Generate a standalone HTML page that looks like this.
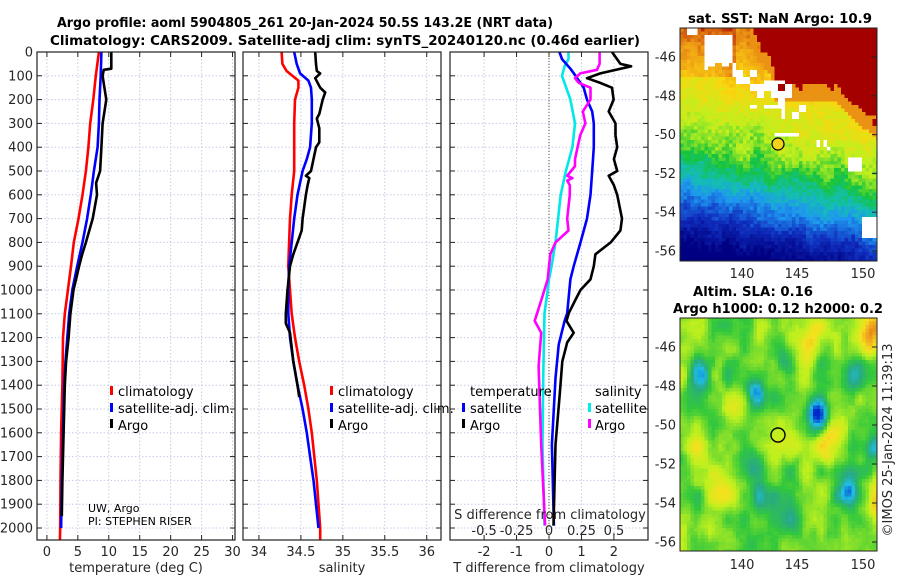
<!DOCTYPE html>
<html><head><meta charset="utf-8"><style>
html,body{margin:0;padding:0;background:#fff;}
svg{display:block;font-family:"DejaVu Sans","Liberation Sans",sans-serif;}
.tk{font-size:13px;fill:#262626;}
.tt{font-size:13.5px;font-weight:bold;fill:#000;}
.lg{font-size:13px;fill:#000;}
</style></head><body>
<svg id="fig" width="900" height="580" viewBox="0 0 900 580">
<rect width="900" height="580" fill="#fff"/>
<text class="tt" x="305" y="27" text-anchor="middle" textLength="496" lengthAdjust="spacingAndGlyphs">Argo profile: aoml 5904805_261 20-Jan-2024 50.5S 143.2E (NRT data)</text>
<text class="tt" x="345" y="45" text-anchor="middle" textLength="590" lengthAdjust="spacingAndGlyphs">Climatology: CARS2009. Satellite-adj clim: synTS_20240120.nc (0.46d earlier)</text>
<text class="tt" x="780" y="23" text-anchor="middle" textLength="184" lengthAdjust="spacingAndGlyphs">sat. SST: NaN Argo: 10.9</text>
<text class="tt" x="753" y="296" text-anchor="middle" textLength="120" lengthAdjust="spacingAndGlyphs">Altim. SLA: 0.16</text>
<text class="tt" x="778" y="313" text-anchor="middle" textLength="210" lengthAdjust="spacingAndGlyphs">Argo h1000: 0.12 h2000: 0.2</text>
<text class="tk" transform="translate(892,440) rotate(-90)" text-anchor="middle">©IMOS 25-Jan-2024 11:39:13</text>
<g id="panels"></g>
<g id="maps"></g>
</svg>
<script>
// ---- Temperature panel data (depth dbar, deg C)
const tClimDepth=[0,100,200,300,400,500,600,700,800,900,1000,1100,1200,1400,1600,1800,2000,2050];
const tClimVal=[8.4,7.9,7.5,7.0,6.7,6.3,5.75,5.1,4.35,3.9,3.4,2.9,2.6,2.5,2.3,2.2,2.15,2.1];
const tSatDepth=[0,100,200,300,400,500,600,700,800,900,1000,1100,1200,1300,1400,1600,1800,2000];
const tSatVal=[8.8,8.7,8.5,8.4,8.2,7.6,7.1,6.5,5.75,4.9,4.1,3.6,3.3,3.0,2.8,2.6,2.4,2.3];
const tArgoDepth=[0,70,75,100,150,200,300,400,500,550,600,700,800,850,900,1000,1100,1200,1300,1400,1600,1800,1950];
const tArgoVal=[10.4,10.4,9.2,9.0,9.3,9.6,9.0,8.8,8.6,7.95,8.1,7.4,6.3,5.7,5.2,4.3,3.8,3.5,3.1,2.9,2.7,2.5,2.4];
// ---- Salinity panel data
const sClimDepth=[0,50,80,120,150,200,300,400,500,600,700,800,900,1000,1100,1200,1300,1400,1500,1600,1700,1800,1900,2000,2050];
const sClimVal=[34.27,34.28,34.33,34.47,34.47,34.43,34.42,34.42,34.42,34.39,34.37,34.36,34.35,34.37,34.39,34.43,34.48,34.54,34.59,34.63,34.66,34.69,34.71,34.73,34.73];
const sSatDepth=[0,50,90,120,150,200,300,400,450,500,600,700,800,900,1000,1100,1200,1300,1400,1500,1600,1700,1800,1900,2000];
const sSatVal=[34.42,34.45,34.49,34.59,34.62,34.63,34.63,34.61,34.57,34.52,34.46,34.42,34.39,34.36,34.35,34.35,34.37,34.41,34.46,34.52,34.57,34.61,34.65,34.68,34.71];
const sArgoDepth=[0,50,80,90,110,150,170,200,260,280,320,380,400,450,500,520,530,560,600,700,750,800,850,900,1000,1100,1140,1180,1300,1400,1450];
const sArgoVal=[34.67,34.68,34.69,34.73,34.67,34.73,34.79,34.76,34.72,34.69,34.72,34.72,34.68,34.65,34.62,34.56,34.60,34.58,34.56,34.52,34.51,34.46,34.41,34.37,34.34,34.32,34.32,34.37,34.41,34.46,34.48];
// ---- Difference panel data
const dTSatDepth=[0,30,70,100,150,200,250,300,400,500,600,700,800,900,955,1097,1130,1230,1370,1650,1990];
const dTSatVal=[0.32,0.4,0.66,0.82,1.07,1.17,1.33,1.38,1.38,1.33,1.28,1.17,0.97,0.76,0.66,0.56,0.48,0.3,0.2,0.09,0.15];
const dTArgoDepth=[0,50,60,90,110,130,150,200,250,300,350,400,450,500,520,560,600,700,750,800,850,900,955,1000,1040,1097,1130,1180,1220,1300,1440,1650,1990];
const dTArgoVal=[1.94,2.2,2.53,1.58,1.17,1.58,1.94,1.99,1.84,2.05,2.05,2.1,2.0,2.1,1.84,2.0,2.1,2.25,2.2,1.9,1.43,1.38,1.28,0.97,0.82,0.61,0.54,0.76,0.56,0.41,0.33,0.2,0.14];
const dSSatDepth=[0,30,60,100,200,300,400,500,600,700,800,900,955,1000,1097,1370,1650,1990];
const dSSatVal=[0.15,0.15,0.12,0.10,0.165,0.2,0.18,0.13,0.09,0.07,0.05,0.02,0.0,-0.01,-0.035,-0.045,-0.05,-0.035];
const dSArgoDepth=[0,50,75,90,110,130,150,200,250,300,350,400,450,480,500,520,530,540,560,600,700,750,800,850,900,955,1026,1130,1180,1320,1650,1990];
const dSArgoVal=[0.39,0.39,0.37,0.24,0.20,0.23,0.32,0.32,0.26,0.28,0.24,0.22,0.2,0.2,0.17,0.14,0.18,0.14,0.16,0.16,0.14,0.15,0.05,0.01,0.0,-0.01,-0.05,-0.11,-0.06,-0.08,-0.06,-0.03];
// ---- Tick labels
const depthTicks=[0,100,200,300,400,500,600,700,800,900,1000,1100,1200,1300,1400,1500,1600,1700,1800,1900,2000];
const tTicks=[0,5,10,15,20,25,30];
const sTicks=[34,34.5,35,35.5,36];
const dTTicks=[-2,-1,0,1,2];
const dSTicks=[-0.5,-0.25,0,0.25,0.5];
const dSTickLabels=["-0.5","-0.25","0","0.25","0.5"];

const NS="http://www.w3.org/2000/svg";
const Y0=52,Y1=540,DPX=0.238;
function yD(d){return Y0+d*DPX;}
function mk(parent,tag,attrs){const e=document.createElementNS(NS,tag);for(const k in attrs)e.setAttribute(k,attrs[k]);parent.appendChild(e);return e;}
const panels=document.getElementById('panels');
const P1={x0:37,x1:235,vmin:-1.6,vmax:30.4};
const P2={x0:243,x1:441,vmin:33.81,vmax:36.17};
const P3={x0:450,x1:648,vmin:-3.05,vmax:3.05};
function xs(P){return v=>P.x0+(v-P.vmin)/(P.vmax-P.vmin)*(P.x1-P.x0);}
const x1f=xs(P1),x2f=xs(P2),x3f=xs(P3);
const x3s=s=>x3f(s*4);

function frame(P,name,xt,xf,xtLabels,showY){
  const g=mk(panels,'g',{});
  
  
  xt.forEach(v=>{const l=mk(g,'line',{x1:xf(v),x2:xf(v),y1:Y0,y2:Y1,stroke:'#c5cde6','stroke-width':1,'stroke-dasharray':'1.5,2'});
    });
  depthTicks.forEach(d=>{const l=mk(g,'line',{x1:P.x0,x2:P.x1,y1:yD(d),y2:yD(d),stroke:'#c5cde6','stroke-width':1,'stroke-dasharray':'1.5,2'});
    });
  depthTicks.forEach(d=>{
    mk(g,'line',{x1:P.x0,x2:P.x0+5,y1:yD(d),y2:yD(d),stroke:'#222'});
    mk(g,'line',{x1:P.x1-5,x2:P.x1,y1:yD(d),y2:yD(d),stroke:'#222'});
    if(showY){const t=mk(g,'text',{x:33,y:yD(d)+4.5,'text-anchor':'end',class:'tk'});t.textContent=d;
      }
  });
  xt.forEach((v,i)=>{
    mk(g,'line',{x1:xf(v),x2:xf(v),y1:Y1,y2:Y1-5,stroke:'#222'});
    mk(g,'line',{x1:xf(v),x2:xf(v),y1:Y0,y2:Y0+5,stroke:'#222'});
    const t=mk(g,'text',{x:xf(v),y:556,'text-anchor':'middle',class:'tk'});t.textContent=xtLabels?xtLabels[i]:v;
    
  });
  return g;
}
function line(g,ds,vs,xf,color,name){
  const pts=ds.map((d,i)=>xf(vs[i]).toFixed(1)+','+yD(d).toFixed(1)).join(' ');
  const p=mk(g,'polyline',{points:pts,fill:'none',stroke:color,'stroke-width':2.6,'stroke-linejoin':'round'});
  
  
}
function box(g,P){mk(g,'rect',{x:P.x0,y:Y0,width:P.x1-P.x0,height:Y1-Y0,fill:'none',stroke:'#222','stroke-width':1.2});}
function txt(g,x,y,s,cls,name,anchor){const t=mk(g,'text',{x:x,y:y,class:cls,'text-anchor':anchor||'start'});t.textContent=s;
  return t;}
function lgMark(g,x,y,c){mk(g,'rect',{x:x,y:y-10,width:3,height:9,fill:c});}

// Panel 1
let g1=frame(P1,'temperature-panel',tTicks,x1f,null,true);
line(g1,tClimDepth,tClimVal,x1f,'#ff0000','temperature-climatology-line');
line(g1,tSatDepth,tSatVal,x1f,'#0000ff','temperature-satellite-line');
line(g1,tArgoDepth,tArgoVal,x1f,'#000000','temperature-argo-line');
box(g1,P1);
lgMark(g1,110,396,'#f00');txt(g1,118,396,'climatology','lg','legend-climatology');
lgMark(g1,110,413,'#00f');txt(g1,118,413,'satellite-adj. clim.','lg','legend-satellite');
lgMark(g1,110,429,'#000');txt(g1,118,430,'Argo','lg','legend-argo');
txt(g1,88,512,'UW, Argo','lg','institution-note').setAttribute('style','font-size:11px');
txt(g1,88,525,'PI: STEPHEN RISER','lg','pi-note').setAttribute('style','font-size:11px');
txt(g1,136,572,'temperature (deg C)','tk','x-axis-title','middle');

// Panel 2
let g2=frame(P2,'salinity-panel',sTicks,x2f,null,false);
line(g2,sClimDepth,sClimVal,x2f,'#ff0000','salinity-climatology-line');
line(g2,sSatDepth,sSatVal,x2f,'#0000ff','salinity-satellite-line');
line(g2,sArgoDepth,sArgoVal,x2f,'#000000','salinity-argo-line');
box(g2,P2);
lgMark(g2,330,396,'#f00');txt(g2,338,396,'climatology','lg','legend-climatology');
lgMark(g2,330,413,'#00f');txt(g2,338,413,'satellite-adj. clim.','lg','legend-satellite');
lgMark(g2,330,429,'#000');txt(g2,338,430,'Argo','lg','legend-argo');
txt(g2,342,572,'salinity','tk','x-axis-title','middle');

// Panel 3
let g3=frame(P3,'difference-panel',dTTicks,x3f,null,false);
mk(g3,'line',{x1:x3f(0),x2:x3f(0),y1:Y0,y2:Y1,stroke:'#555533','stroke-width':1,'stroke-dasharray':'1,2'});
line(g3,dSSatDepth,dSSatVal,x3s,'#00e8e8','salinity-diff-satellite-line');
line(g3,dTSatDepth,dTSatVal,x3f,'#0000ff','temperature-diff-satellite-line');
line(g3,dSArgoDepth,dSArgoVal,x3s,'#ff00ff','salinity-diff-argo-line');
line(g3,dTArgoDepth,dTArgoVal,x3f,'#000000','temperature-diff-argo-line');
box(g3,P3);
txt(g3,470,396,'temperature','lg','legend-temperature-header');
lgMark(g3,462,413,'#00f');txt(g3,470,413,'satellite','lg','legend-t-satellite');
lgMark(g3,462,429,'#000');txt(g3,470,430,'Argo','lg','legend-t-argo');
txt(g3,595,396,'salinity','lg','legend-salinity-header');
lgMark(g3,588,413,'#0ee');txt(g3,595,413,'satellite','lg','legend-s-satellite');
lgMark(g3,588,429,'#f0f');txt(g3,595,430,'Argo','lg','legend-s-argo');
txt(g3,550,519,'S difference from climatology','tk','s-axis-title','middle');
dSTicks.forEach((s,i)=>txt(g3,x3s(s),535,dSTickLabels[i],'tk','s-tick-label','middle'));
txt(g3,549,572,'T difference from climatology','tk','x-axis-title','middle');

// ---- Maps
const maps=document.getElementById('maps');
function hash(i,j){let h=(i*374761393+j*668265263)|0;h=(h^(h>>>13))*1274126177|0;return ((h^(h>>>16))>>>0)/4294967296;}
function vnoise(x,y,seed){const xi=Math.floor(x),yi=Math.floor(y),fx=x-xi,fy=y-yi;
  const sx=fx*fx*(3-2*fx),sy=fy*fy*(3-2*fy);
  const a=hash(xi+seed,yi),b=hash(xi+1+seed,yi),c=hash(xi+seed,yi+1),d=hash(xi+1+seed,yi+1);
  return (a*(1-sx)+b*sx)*(1-sy)+(c*(1-sx)+d*sx)*sy;}
function cmap(stops,v){v=Math.max(0,Math.min(1,v));for(let i=1;i<stops.length;i++){if(v<=stops[i][0]){const a=stops[i-1],b=stops[i],f=(v-a[0])/(b[0]-a[0]||1);
  const c=[0,1,2].map(k=>Math.round(a[1][k]+(b[1][k]-a[1][k])*f));return 'rgb('+c.join(',')+')';}}return 'rgb('+stops[stops.length-1][1].join(',')+')';}
const sstStops=[[0,[0,0,130]],[0.15,[16,48,192]],[0.28,[30,150,240]],[0.36,[20,190,180]],[0.46,[20,195,60]],[0.56,[190,240,30]],[0.68,[250,215,15]],[0.8,[240,160,20]],[0.9,[210,90,15]],[0.95,[165,0,0]],[1,[165,0,0]]];
const slaStops=[[0,[0,40,200]],[0.2,[30,190,230]],[0.33,[40,170,130]],[0.45,[50,200,60]],[0.6,[190,240,30]],[0.72,[245,225,30]],[0.85,[240,160,30]],[1,[190,70,0]]];
const MX0=680,MX1=877;
const lonOf=x=>135+(x-680)/12.4;
function drawMap(name,y0,y1,latTop,pxPerDeg,fn){
  const g=mk(maps,'g',{});
  const cs=3.5;
  for(let y=y0,j=0;y<y1;y+=cs,j++){for(let x=MX0,i=0;x<MX1;x+=cs,i++){
    const lat=latTop-(y-y0)/pxPerDeg,lon=lonOf(x);const c=fn(lon,lat,i,j);if(!c)continue;
    mk(g,'rect',{x:x.toFixed(1),y:y.toFixed(1),width:Math.min(cs,MX1-x)+0.3,height:Math.min(cs,y1-y)+0.3,fill:c});}}
  mk(g,'rect',{x:MX0,y:y0,width:MX1-MX0,height:y1-y0,fill:'none',stroke:'#222'});
  return g;
}
// SST
const sstG=drawMap('sst-map',28,261,-44.55,19.4,(lon,lat,i,j)=>{
  const F=-50.7-0.13*(lon-136);
  const t=lat-F;
  let v=0.49+t*(t<0?0.1:0.052)+(hash(i,j)-0.5)*0.07+(vnoise(lon*0.9,lat*0.9,7)-0.5)*0.08;
  if(lon<139.5&&lat>-47) v+=0.08;
  // red wedge (top right)
  let redEdge;
  if(lon<140.6) redEdge=-40; else if(lon<142.5) redEdge=-44.6-(lon-140.6)*1.0; else if(lon<147.5) redEdge=-47.5; else redEdge=-47.5-(lon-147.5)*0.6;
  if(lat>redEdge+(vnoise(lon*2,lat*2,3)-0.5)*0.6) v=1;
  else if(lat>redEdge-0.8) v=Math.max(v,0.82);
  const white=(lon>136.8&&lon<139.2&&lat>-46.6+0.4*hash(i>>1,3)&&lat<-44.9)||
    (lon>139.2&&lon<141.5&&lat>-47.4&&lat<-46.2&&hash(i>>1,j>>1)>0.4)||
    (lon>140.5&&lon<144&&lat>-48.6&&lat<-47.2&&hash(i>>1,j>>1)>0.35)||
    (lon>143&&lon<145.3&&lat>-49.2&&lat<-48.4&&hash(i>>1,j>>2)>0.5)||
    (lon>142.5&&lon<144.5&&lat>-50.3&&lat<-49.9&&hash(i,j)>0.4)||
    (lon>149.6&&lon<151.2&&lat>-55.2&&lat<-54.2)||
    (lon>148.3&&lon<149.5&&lat>-51.8&&lat<-51.2)||
    (lon>146&&lon<147.3&&lat>-50.7&&lat<-50.2&&hash(i,j>>1)>0.4)||
    (lon>135.3&&lon<136.2&&lat>-44.9&&lat<-44.5);
  if(white)return '#fff';
  return cmap(sstStops,v);});
// SLA
const slaBlobs=[[136.5,-47.5,-0.35,0.8],[141,-48.5,-0.35,0.7],[146,-49.5,-0.55,0.8],[150.5,-51.3,-0.3,0.7],[148.5,-53.5,-0.4,0.7],[143.5,-46.8,-0.2,0.8],[141,-52,-0.2,0.8],[149,-47.5,-0.2,0.8],[151,-54,0.3,1],[147,-51,0.22,1.1],[150.5,-45.3,0.3,1],[145.5,-45.8,0.2,1],[139.5,-49.5,0.15,1],[136,-51,0.12,1],[144,-50,0.1,1.5],[138,-53.5,0.12,1],[137,-55.5,0.12,0.8],[141.5,-53.8,-0.12,1.2],[144,-54.8,-0.1,1.2]];
const slaG=drawMap('sla-map',318,551,-44.7,19.5,(lon,lat,i,j)=>{
  let v=0.52+(vnoise(lon*0.8,lat*0.8,11)-0.5)*0.22+(vnoise(lon*1.6,lat*1.6,29)-0.5)*0.1+(hash(i,j)-0.5)*0.02;
  slaBlobs.forEach(b=>{const d2=((lon-b[0])**2+(lat-b[1])**2)/(b[3]*b[3]);v+=b[2]*Math.exp(-d2);});
  return cmap(slaStops,v);});
// map labels
[[742,'140'],[797,'145'],[863,'150']].forEach(a=>{txt(maps,a[0],278,a[1],'tk','sst-lon-tick','middle');txt(maps,a[0],569,a[1],'tk','sla-lon-tick','middle');});
['-46','-48','-50','-52','-54','-56'].forEach((s,k)=>{
  const ys=57+k*38.8, ya=347+k*39;
  txt(maps,676,ys+4.5,s,'tk','sst-lat-tick','end');txt(maps,676,ya+4.5,s,'tk','sla-lat-tick','end');
  mk(maps,'line',{x1:872,x2:877,y1:ys,y2:ys,stroke:'#222'});mk(maps,'line',{x1:872,x2:877,y1:ya,y2:ya,stroke:'#222'});
});
const c1=mk(maps,'circle',{cx:778,cy:144,r:6,fill:'#f2d21a',stroke:'#000','stroke-width':1.2});

const c2=mk(maps,'circle',{cx:778,cy:435,r:7,fill:'none',stroke:'#000','stroke-width':1.4});

</script>
</body></html>
